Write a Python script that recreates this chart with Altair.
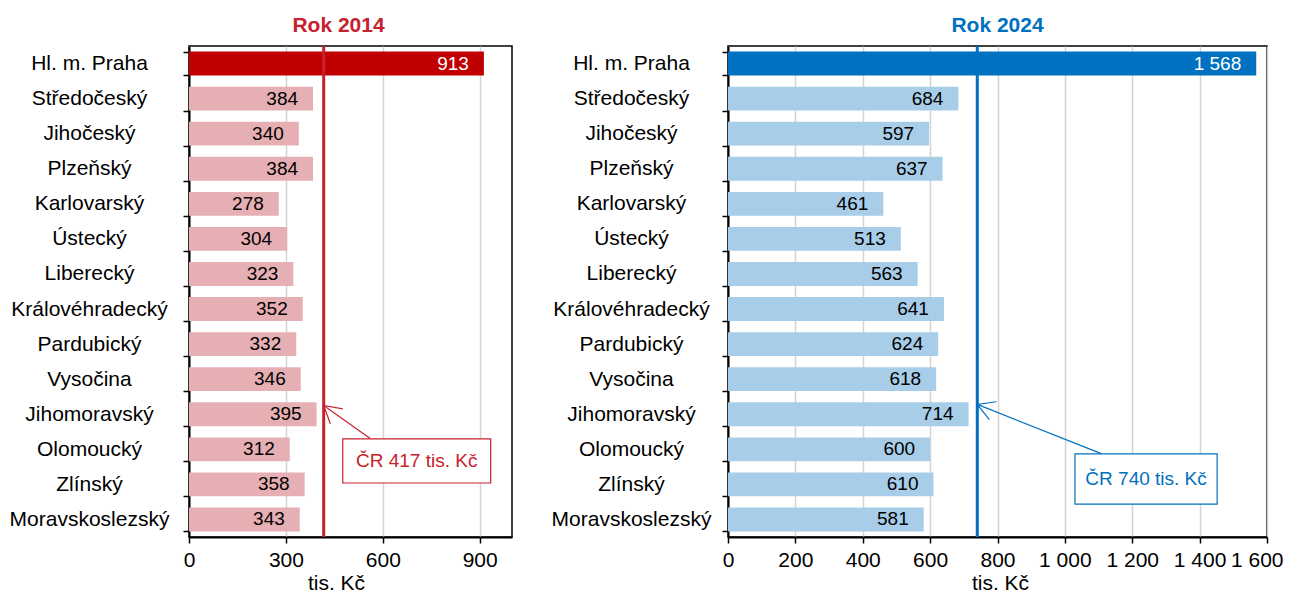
import altair as alt
import pandas as pd

# ---------------- data ----------------
regions = ["Hl. m. Praha", "Středočeský", "Jihočeský", "Plzeňský", "Karlovarský",
           "Ústecký", "Liberecký", "Královéhradecký", "Pardubický", "Vysočina",
           "Jihomoravský", "Olomoucký", "Zlínský", "Moravskoslezský"]
values_2014 = [913, 384, 340, 384, 278, 304, 323, 352, 332, 346, 395, 312, 358, 343]
values_2024 = [1568, 684, 597, 637, 461, 513, 563, 641, 624, 618, 714, 600, 610, 581]
avg_2014 = 417
avg_2024 = 740
ticks_2014 = [0, 300, 600, 900]
ticks_2024 = [0, 200, 400, 600, 800, 1000, 1200, 1400, 1600]
titles = ["Rok 2014", "Rok 2024"]
unit = "tis. Kč"

FONT = "Liberation Sans"
H = 491


def fmt(v):
    return f"{v:,}".replace(",", " ")


def panel(title, values, avg, dmax, ticks, dark, light, accent, width,
          label_pad, title_dx, axis_title_x, ann, head_angle):
    df = pd.DataFrame({"region": regions, "value": values,
                       "label": [fmt(v) for v in values]})
    xs = alt.Scale(domain=[0, dmax], nice=False, zero=True)
    last = ticks[-1]
    x_axis = alt.Axis(values=ticks, grid=True, gridColor="#D4D4D4", gridWidth=1.5,
                      domainColor="black", domainWidth=2, tickColor="black",
                      tickWidth=1.5, tickSize=6, labelFontSize=21, labelColor="black",
                      labelPadding=6, labelFont=FONT, labelOverlap=False,
                      labelFlush=False,
                      labelAlign={"condition": {"test": f"datum.value == {last} && {last} == 1600",
                                                "value": "right"}, "value": "center"},
                      labelOffset={"condition": {"test": f"datum.value == {last} && {last} == 1600",
                                                 "value": 16}, "value": 0},
                      labelExpr="replace(format(datum.value, ','), ',', ' ')",
                      title=unit, titleFontSize=21, titleFontWeight="normal",
                      titleColor="black", titlePadding=2, titleFont=FONT,
                      titleX=axis_title_x)
    y_enc = alt.Y("region:N", sort=regions,
                  scale=alt.Scale(paddingInner=0.32, paddingOuter=0.16),
                  axis=alt.Axis(title=None, tickBand="extent", labelAlign="center",
                                labelPadding=label_pad, tickSize=6, tickWidth=1.5,
                                labelFontSize=21, labelColor="black", labelFont=FONT,
                                domainColor="black", domainWidth=2, tickColor="black",
                                labelLimit=0))
    bars = alt.Chart(df).mark_bar().encode(
        x=alt.X("value:Q", scale=xs, axis=x_axis),
        y=y_enc,
        color=alt.condition(alt.datum.region == regions[0], alt.value(dark), alt.value(light)),
    )
    text = alt.Chart(df).mark_text(align="right", baseline="middle", dx=-15,
                                   fontSize=19, font=FONT).encode(
        x=alt.X("value:Q", scale=xs),
        y=alt.Y("region:N", sort=regions,
                scale=alt.Scale(paddingInner=0.32, paddingOuter=0.16)),
        text="label:N",
        color=alt.condition(alt.datum.region == regions[0], alt.value("white"), alt.value("black")),
    )
    rule = alt.Chart(pd.DataFrame({"avg": [avg]})).mark_rule(
        color=accent, strokeWidth=3).encode(x=alt.X("avg:Q", scale=xs))
    main = alt.layer(bars, text, rule)

    # annotation (row-based vertical coordinate: 0 = top of plot, 14 = bottom)
    ys = alt.Scale(domain=[0, len(regions)], reverse=True, nice=False, zero=False)
    adf = pd.DataFrame([{**ann, "ax2": avg,
                         "txt": f"ČR {avg} tis. Kč"}])
    box = alt.Chart(adf).mark_rect(fill="white", stroke=accent, strokeWidth=1.2).encode(
        x=alt.X("bx1:Q", scale=xs), x2="bx2:Q",
        y=alt.Y("by1:Q", scale=ys, axis=None), y2="by2:Q")
    btxt = alt.Chart(adf).mark_text(color=accent, fontSize=19, font=FONT,
                                    baseline="middle").encode(
        x=alt.X("tx:Q", scale=xs), y=alt.Y("ty:Q", scale=ys, axis=None), text="txt:N")
    arrow = alt.Chart(adf).mark_rule(color=accent, strokeWidth=1.2).encode(
        x=alt.X("ax1:Q", scale=xs), x2="ax2:Q",
        y=alt.Y("ay1:Q", scale=ys, axis=None), y2="ay2:Q")
    head = alt.Chart(adf).mark_point(
        shape="M-0.5,0.87L0,0L0.5,0.87", size=1500, angle=head_angle, filled=False,
        stroke=accent, strokeWidth=1.2, opacity=1).encode(
        x=alt.X("ax2:Q", scale=xs), y=alt.Y("ay2:Q", scale=ys, axis=None))
    annot = alt.layer(arrow, head, box, btxt)

    return alt.layer(main, annot).resolve_scale(y="independent").properties(
        width=width, height=H,
        title=alt.Title(title, color=accent, fontSize=21, fontWeight="bold",
                        font=FONT, dx=title_dx, offset=-1))


left = panel(titles[0], values_2014, avg_2014, 1000, ticks_2014,
             "#C00000", "#E6AFB3", "#C8202D", 323, 94, -12, 147,
             dict(bx1=476, bx2=934, by1=11.2, by2=12.46, tx=705, ty=11.83,
                  ax1=562, ay1=11.2, ay2=10.25), 310)
right = panel(titles[1], values_2024, avg_2024, 1600, ticks_2024,
              "#0070C0", "#A7CDE8", "#0070C0", 539, 91, 0, 272,
              dict(bx1=1030, bx2=1452, by1=11.63, by2=13.06, tx=1241, ty=12.35,
                   ax1=1110, ay1=11.63, ay2=10.22), 292)

chart = alt.hconcat(left, right, spacing=37).properties(
    padding={"top": 6, "left": 0, "right": 0, "bottom": 0}).configure(
    font=FONT).configure_view(stroke="black", strokeWidth=1.5)

chart.save("out.html", embed_options={"renderer": "svg", "actions": False})
